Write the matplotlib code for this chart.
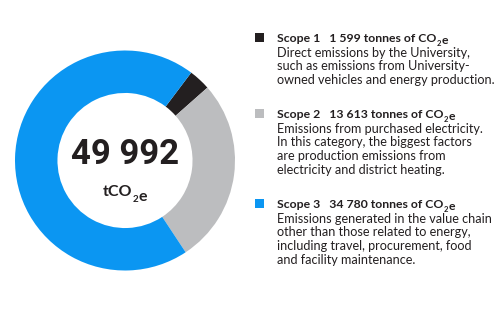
import matplotlib
matplotlib.use('Agg')
import matplotlib.pyplot as plt

plt.rcParams['font.family'] = ['Lato', 'DejaVu Sans']

# data
scopes = ['Scope 1', 'Scope 2', 'Scope 3']
tonnes = [1599, 13613, 34780]
amount_labels = ['1 599', '13 613', '34 780']
colors = ['#231f20', '#bcbdbf', '#0b96f2']
descriptions = [
    ['Direct emissions by the University,',
     'such as emissions from University-',
     'owned vehicles and energy production.'],
    ['Emissions from purchased electricity.',
     'In this category, the biggest factors',
     'are production emissions from',
     'electricity and district heating.'],
    ['Emissions generated in the value chain',
     'other than those related to energy,',
     'including travel, procurement, food',
     'and facility maintenance.'],
]
total_label = '49 992'

W, H = 500, 321
fig = plt.figure(figsize=(W / 100, H / 100), dpi=100)
ink = '#231f20'


def co2e(x, y, prefix, size, transform):
    # bold text ending in "CO2e" with a smaller, lowered 2
    t = fig.text(x, y, prefix + 'CO', transform=transform, ha='left', va='baseline',
                 fontsize=size, fontweight='bold', color=ink)
    sub = plt.annotate('2', xy=(1, 0), xycoords=t, xytext=(0.2, -size * 0.22),
                       textcoords='offset points', ha='left', va='baseline',
                       fontsize=size * 0.62, fontweight='bold', color=ink)
    plt.annotate('e', xy=(1, 0), xycoords=sub, xytext=(0.2, size * 0.22),
                 textcoords='offset points', ha='left', va='baseline',
                 fontsize=size, fontweight='bold', color=ink)


# donut, centre (125, 160.5) px, radius 110 px
cx, cy, r = 125, 160.5, 110
ax = fig.add_axes([(cx - r) / W, (H - cy - r) / H, 2 * r / W, 2 * r / H])
ax.pie(tonnes, colors=colors, startangle=53, counterclock=False,
       radius=1, wedgeprops=dict(width=0.386, linewidth=0))
ax.set_xlim(-1, 1)
ax.set_ylim(-1, 1)
ax.set_aspect('equal')
ax.axis('off')

ax.text(0, 0.05, total_label, ha='center', va='center', fontsize=25,
        fontweight='bold', color=ink, family=['Roboto', 'DejaVu Sans'])
co2e(-0.2, -0.32, 't', 11.5, ax.transData)


def px(x, y):
    return x / W, 1 - y / H


header_y = [38, 114, 204]
square_y = [37.5, 113.5, 203.5]
line_step = 13.5
for i in range(3):
    sx, sy = px(255, square_y[i] - 4.5)
    fig.patches.append(plt.Rectangle((sx, sy - 9 / H), 9 / W, 9 / H,
                                     transform=fig.transFigure, color=colors[i],
                                     linewidth=0))
    hx, hy = px(277, header_y[i] + 3.5)
    co2e(hx, hy, scopes[i] + '   ' + amount_labels[i] + ' tonnes of ', 8.8,
         fig.transFigure)
    for j, line in enumerate(descriptions[i]):
        lx, ly = px(277, header_y[i] + 15 + j * line_step)
        fig.text(lx, ly, line, ha='left', va='center', fontsize=9.1, color=ink)

fig.savefig('out.png', dpi=100)
